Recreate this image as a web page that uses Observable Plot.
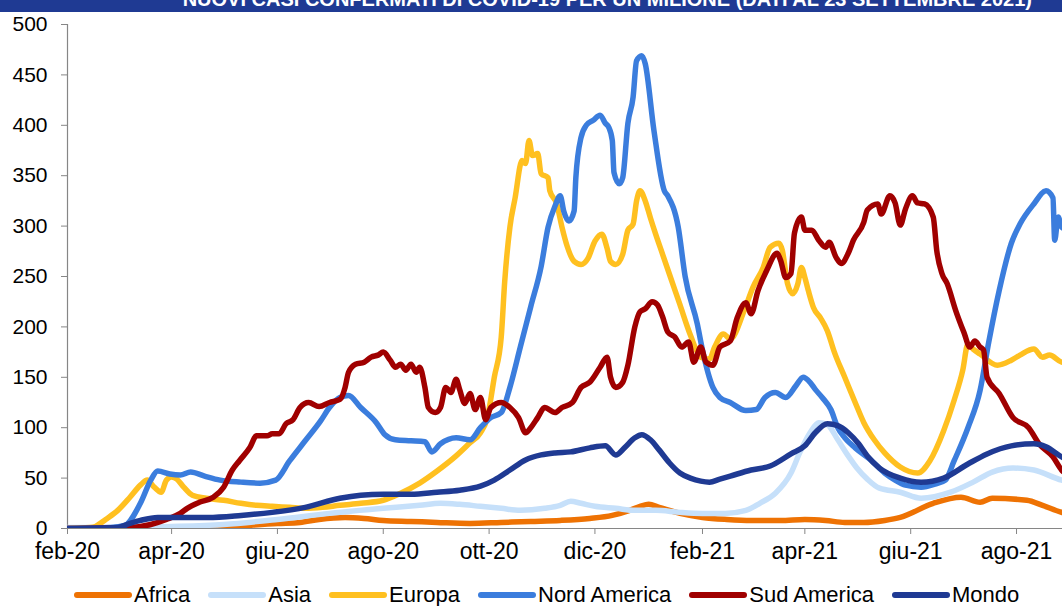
<!DOCTYPE html>
<html>
<head>
<meta charset="utf-8">
<script src="https://cdn.jsdelivr.net/npm/d3@7"></script>
<script src="https://cdn.jsdelivr.net/npm/@observablehq/plot@0.6"></script>
<style>
  html, body { margin: 0; padding: 0; background: #fff; overflow: hidden; }
  #wrap { width: 1062px; height: 606px; position: relative; overflow: hidden; }
  #title { height: 12px; background: #1f3a93; overflow: hidden; position: relative; }
  #title div { position: absolute; right: 30px; top: -11px; white-space: nowrap; color: #fff;
    font: bold 20px/20px "Liberation Sans", Arial, sans-serif; }
  #legend { height: 38px; box-sizing: border-box; padding-top: 16px; padding-left: 73px; display: flex; align-items: center;
    white-space: nowrap; font: 22px/26px "Liberation Sans", Arial, sans-serif; color: #000; }
  #legend .item { display: flex; align-items: center; margin-right: 17px; flex: none; }
  #legend svg { margin-right: 1px; }
</style>
</head>
<body>
<div id="wrap">
  <div id="title"><div>NUOVI CASI CONFERMATI DI COVID-19 PER UN MILIONE (DATI AL 23 SETTEMBRE 2021)</div></div>
  <div id="chart"></div>
  <div id="legend"></div>
</div>
<script>
const seriesNames = ["Africa", "Asia", "Europa", "Nord America", "Sud America", "Mondo"];
const seriesColors = ["#ee7203", "#c6e0fa", "#ffc020", "#3b7ddd", "#a00000", "#1f3a93"];
const yTicks = [0, 50, 100, 150, 200, 250, 300, 350, 400, 450, 500];
const xTickDates = ["2020-02-01","2020-04-01","2020-06-01","2020-08-01","2020-10-01","2020-12-01","2021-02-01","2021-04-01","2021-06-01","2021-08-01"];
const xTickLabels = ["feb-20","apr-20","giu-20","ago-20","ott-20","dic-20","feb-21","apr-21","giu-21","ago-21"];

const africa = [
["2020-02-01",0],["2020-04-01",0.5],["2020-05-01",1.5],["2020-06-01",5],["2020-06-14",6],["2020-06-25",9],["2020-07-10",11],["2020-07-21",10],["2020-08-01",8],["2020-08-17",7],["2020-09-01",6],["2020-09-20",5],["2020-10-08",6],["2020-10-25",7],["2020-11-11",8],["2020-11-28",10],["2020-12-11",13],["2020-12-21",18],["2020-12-27",22],["2021-01-01",24],["2021-01-07",21],["2021-01-19",15],["2021-02-01",11],["2021-02-15",9],["2021-03-01",8],["2021-03-18",8],["2021-04-01",9],["2021-04-13",8],["2021-04-24",6],["2021-05-05",6],["2021-05-17",8],["2021-05-26",11],["2021-06-14",25],["2021-06-30",31],["2021-07-11",26],["2021-07-18",30],["2021-08-07",28],["2021-08-16",23],["2021-08-27",16],["2021-09-01",14]
];
const asia = [
["2020-02-01",1],["2020-03-01",1],["2020-04-01",2],["2020-05-01",4],["2020-06-01",9],["2020-07-01",15],["2020-08-01",20],["2020-08-22",23],["2020-09-03",25],["2020-09-14",24],["2020-09-26",22],["2020-10-08",20],["2020-10-19",18],["2020-11-02",20],["2020-11-11",23],["2020-11-17",27],["2020-11-23",25],["2020-12-01",22],["2020-12-13",20],["2020-12-24",18],["2021-01-05",18],["2021-01-19",16],["2021-02-01",15],["2021-02-14",15],["2021-02-26",18],["2021-03-06",25],["2021-03-15",35],["2021-03-24",55],["2021-03-29",75],["2021-04-04",95],["2021-04-09",105],["2021-04-14",103],["2021-04-20",88],["2021-04-26",72],["2021-05-01",60],["2021-05-07",49],["2021-05-14",40],["2021-05-26",36],["2021-06-07",30],["2021-06-24",36],["2021-07-07",46],["2021-07-18",56],["2021-07-30",60],["2021-08-11",58],["2021-08-27",48],["2021-09-01",46]
];
const europa = [
["2020-02-01",0],["2020-02-14",1],["2020-02-17",2],["2020-02-23",9],["2020-03-01",18],["2020-03-08",31],["2020-03-14",43],["2020-03-18",48],["2020-03-22",41],["2020-03-26",36],["2020-03-29",48],["2020-04-01",51],["2020-04-04",49],["2020-04-08",41],["2020-04-13",33],["2020-04-21",30],["2020-05-01",28],["2020-05-11",25],["2020-05-20",23],["2020-05-29",22],["2020-06-08",21],["2020-06-17",20],["2020-06-27",21],["2020-07-07",23],["2020-07-19",25],["2020-08-01",28],["2020-08-11",35],["2020-08-22",45],["2020-09-01",57],["2020-09-12",72],["2020-09-20",85],["2020-09-26",95],["2020-09-30",110],["2020-10-04",150],["2020-10-08",190],["2020-10-10",245],["2020-10-13",299],["2020-10-16",328],["2020-10-20",365],["2020-10-22",362],["2020-10-24",385],["2020-10-26",370],["2020-10-29",372],["2020-10-31",352],["2020-11-04",348],["2020-11-05",335],["2020-11-09",322],["2020-11-12",299],["2020-11-15",280],["2020-11-19",265],["2020-11-23",262],["2020-11-27",268],["2020-12-01",285],["2020-12-05",292],["2020-12-08",278],["2020-12-10",265],["2020-12-13",262],["2020-12-17",272],["2020-12-20",296],["2020-12-23",302],["2020-12-25",325],["2020-12-27",335],["2020-12-30",325],["2021-01-02",308],["2021-01-05",292],["2021-01-09",272],["2021-01-13",252],["2021-01-19",222],["2021-01-25",192],["2021-01-31",170],["2021-02-05",168],["2021-02-08",180],["2021-02-13",193],["2021-02-17",188],["2021-02-25",216],["2021-03-02",239],["2021-03-08",259],["2021-03-12",279],["2021-03-17",283],["2021-03-19",276],["2021-03-22",243],["2021-03-25",233],["2021-03-28",243],["2021-03-30",259],["2021-04-01",249],["2021-04-03",236],["2021-04-06",219],["2021-04-10",209],["2021-04-14",196],["2021-04-18",175],["2021-04-24",150],["2021-04-30",125],["2021-05-05",105],["2021-05-11",88],["2021-05-17",75],["2021-05-26",61],["2021-06-05",55],["2021-06-12",67],["2021-06-20",97],["2021-06-26",127],["2021-07-01",157],["2021-07-04",183],["2021-07-07",178],["2021-07-11",173],["2021-07-21",162],["2021-07-29",167],["2021-08-03",172],["2021-08-11",178],["2021-08-16",170],["2021-08-20",172],["2021-08-27",165],["2021-09-01",164]
];
const nordAmerica = [
["2020-02-01",0],["2020-02-26",1],["2020-03-05",3],["2020-03-14",25],["2020-03-20",48],["2020-03-24",57],["2020-03-31",54],["2020-04-06",53],["2020-04-12",56],["2020-04-20",52],["2020-04-29",48],["2020-05-11",46],["2020-05-22",45],["2020-05-31",48],["2020-06-08",67],["2020-06-17",87],["2020-06-26",107],["2020-07-01",120],["2020-07-07",130],["2020-07-12",132],["2020-07-19",120],["2020-07-28",105],["2020-08-02",93],["2020-08-08",88],["2020-08-17",87],["2020-08-25",86],["2020-08-29",76],["2020-09-03",84],["2020-09-12",90],["2020-09-20",88],["2020-09-26",100],["2020-10-02",110],["2020-10-08",115],["2020-10-13",140],["2020-10-19",180],["2020-10-25",220],["2020-10-31",260],["2020-11-04",299],["2020-11-08",320],["2020-11-11",330],["2020-11-13",315],["2020-11-16",305],["2020-11-19",315],["2020-11-20",348],["2020-11-23",388],["2020-11-26",400],["2020-11-30",405],["2020-12-04",410],["2020-12-07",402],["2020-12-09",398],["2020-12-11",385],["2020-12-12",353],["2020-12-15",342],["2020-12-17",348],["2020-12-20",402],["2020-12-23",428],["2020-12-25",464],["2020-12-28",469],["2020-12-30",461],["2021-01-04",395],["2021-01-10",335],["2021-01-12",330],["2021-01-18",299],["2021-01-22",250],["2021-01-29",203],["2021-02-01",177],["2021-02-07",140],["2021-02-11",130],["2021-02-17",125],["2021-02-26",117],["2021-03-04",118],["2021-03-09",130],["2021-03-15",135],["2021-03-21",130],["2021-03-27",142],["2021-03-31",150],["2021-04-04",145],["2021-04-07",138],["2021-04-11",130],["2021-04-16",118],["2021-04-20",100],["2021-04-24",90],["2021-04-30",80],["2021-05-09",68],["2021-05-17",55],["2021-05-23",48],["2021-05-29",43],["2021-06-07",41],["2021-06-15",44],["2021-06-21",48],["2021-06-26",67],["2021-07-04",100],["2021-07-11",137],["2021-07-16",185],["2021-07-22",236],["2021-07-29",283],["2021-08-03",302],["2021-08-11",322],["2021-08-18",335],["2021-08-22",328],["2021-08-23",286],["2021-08-25",309],["2021-08-27",299],["2021-09-01",295]
];
const sudAmerica = [
["2020-02-01",0],["2020-03-08",1],["2020-03-20",4],["2020-03-29",9],["2020-04-06",15],["2020-04-10",20],["2020-04-17",26],["2020-04-25",31],["2020-05-01",41],["2020-05-06",58],["2020-05-10",67],["2020-05-16",80],["2020-05-20",92],["2020-05-26",92],["2020-05-29",94],["2020-06-02",94],["2020-06-06",104],["2020-06-10",108],["2020-06-14",120],["2020-06-19",125],["2020-06-25",121],["2020-07-01",125],["2020-07-07",128],["2020-07-10",140],["2020-07-12",155],["2020-07-16",163],["2020-07-21",165],["2020-07-25",170],["2020-07-29",172],["2020-08-01",175],["2020-08-05",167],["2020-08-08",160],["2020-08-11",163],["2020-08-14",157],["2020-08-17",163],["2020-08-20",155],["2020-08-22",160],["2020-08-25",140],["2020-08-27",120],["2020-08-31",115],["2020-09-03",120],["2020-09-06",140],["2020-09-09",135],["2020-09-12",148],["2020-09-14",138],["2020-09-17",124],["2020-09-20",134],["2020-09-23",118],["2020-09-26",130],["2020-09-29",108],["2020-10-02",120],["2020-10-08",125],["2020-10-13",120],["2020-10-18",110],["2020-10-22",95],["2020-10-25",100],["2020-10-29",110],["2020-11-02",120],["2020-11-08",115],["2020-11-12",120],["2020-11-18",125],["2020-11-23",140],["2020-11-28",145],["2020-12-04",160],["2020-12-08",170],["2020-12-10",150],["2020-12-13",140],["2020-12-17",145],["2020-12-20",162],["2020-12-24",200],["2020-12-27",215],["2020-12-30",218],["2021-01-03",225],["2021-01-06",222],["2021-01-09",210],["2021-01-12",195],["2021-01-16",190],["2021-01-20",180],["2021-01-24",185],["2021-01-27",165],["2021-01-31",180],["2021-02-03",165],["2021-02-07",162],["2021-02-11",180],["2021-02-17",186],["2021-02-21",209],["2021-02-26",224],["2021-03-01",213],["2021-03-05",236],["2021-03-10",256],["2021-03-16",273],["2021-03-18",266],["2021-03-21",249],["2021-03-24",253],["2021-03-26",293],["2021-03-30",309],["2021-04-01",296],["2021-04-05",296],["2021-04-09",286],["2021-04-13",279],["2021-04-15",284],["2021-04-19",269],["2021-04-22",263],["2021-04-26",273],["2021-04-29",286],["2021-05-05",304],["2021-05-07",316],["2021-05-13",322],["2021-05-15",312],["2021-05-20",330],["2021-05-23",323],["2021-05-26",301],["2021-05-29",317],["2021-06-02",330],["2021-06-05",323],["2021-06-09",322],["2021-06-14",309],["2021-06-16",276],["2021-06-19",253],["2021-06-22",243],["2021-06-27",216],["2021-07-02",193],["2021-07-05",180],["2021-07-08",186],["2021-07-11",180],["2021-07-13",177],["2021-07-15",150],["2021-07-22",134],["2021-07-30",110],["2021-08-08",100],["2021-08-14",84],["2021-08-22",71],["2021-08-27",58],["2021-09-01",52]
];
const mondo = [
["2020-02-01",0],["2020-03-01",1],["2020-03-08",5],["2020-03-14",8],["2020-03-24",11],["2020-04-06",11],["2020-04-22",11],["2020-05-11",13],["2020-05-29",16],["2020-06-17",21],["2020-07-07",30],["2020-07-19",33],["2020-08-01",34],["2020-08-17",34],["2020-09-01",36],["2020-09-14",38],["2020-09-26",42],["2020-10-04",48],["2020-10-13",58],["2020-10-22",68],["2020-10-31",73],["2020-11-08",75],["2020-11-17",76],["2020-11-28",80],["2020-12-07",82],["2020-12-13",73],["2020-12-18",80],["2020-12-24",90],["2020-12-28",93],["2021-01-02",88],["2021-01-07",78],["2021-01-13",65],["2021-01-19",55],["2021-01-25",50],["2021-01-31",47],["2021-02-05",46],["2021-02-11",49],["2021-02-17",52],["2021-03-01",58],["2021-03-12",62],["2021-03-24",74],["2021-04-01",82],["2021-04-07",95],["2021-04-14",104],["2021-04-20",102],["2021-04-26",95],["2021-05-02",84],["2021-05-07",72],["2021-05-14",60],["2021-05-26",50],["2021-06-07",46],["2021-06-20",50],["2021-07-04",64],["2021-07-15",74],["2021-07-29",82],["2021-08-11",84],["2021-08-18",81],["2021-08-27",71],["2021-09-01",67]
];

const seriesData = [africa, asia, europa, nordAmerica, sudAmerica, mondo];
const rows = seriesData.flatMap((arr, i) => arr.map(([d, v]) => ({serie: seriesNames[i], date: new Date(d + "T00:00:00Z"), value: v})));
const tickDates = xTickDates.map(d => new Date(d + "T00:00:00Z"));
const labelOf = new Map(tickDates.map((d, i) => [+d, xTickLabels[i]]));

const chart = Plot.plot({
  width: 1062,
  height: 556,
  marginLeft: 67,
  marginRight: 0,
  marginTop: 12,
  marginBottom: 40,
  style: {background: "#fff", color: "#000", fontFamily: '"Liberation Sans", Arial, sans-serif'},
  x: {type: "utc", domain: [new Date("2020-02-01T00:00:00Z"), new Date("2021-08-27T12:00:00Z")]},
  y: {domain: [0, 500]},
  color: {domain: seriesNames, range: seriesColors},
  marks: [
    Plot.axisY({ticks: yTicks, tickSize: 6, tickPadding: 14, stroke: "#868686", fill: "#000", fontSize: 21, label: null, tickFormat: d => String(d)}),
    Plot.axisX({ticks: tickDates, tickSize: 6, tickPadding: 8, stroke: "#868686", fill: "#000", fontSize: 23, label: null, tickFormat: d => labelOf.get(+d)}),
    Plot.ruleX([tickDates[0]], {y1: 0, y2: 500, stroke: "#868686", strokeWidth: 1.2}),
    Plot.line(rows, {x: "date", y: "value", z: "serie", stroke: "serie", strokeWidth: 5.5, curve: "monotone-x", clip: true, strokeLinejoin: "round", strokeLinecap: "round"}),
    Plot.ruleY([0], {stroke: "#868686", strokeWidth: 1.2})
  ]
});
document.getElementById("chart").appendChild(chart);

const legend = document.getElementById("legend");
seriesNames.forEach((name, i) => {
  const item = document.createElement("div");
  item.className = "item";
  item.innerHTML = `<svg width="60" height="10"><line x1="4" y1="5" x2="56" y2="5" stroke="${seriesColors[i]}" stroke-width="6" stroke-linecap="round"/></svg><span>${name}</span>`;
  legend.appendChild(item);
});
</script>
</body>
</html>
